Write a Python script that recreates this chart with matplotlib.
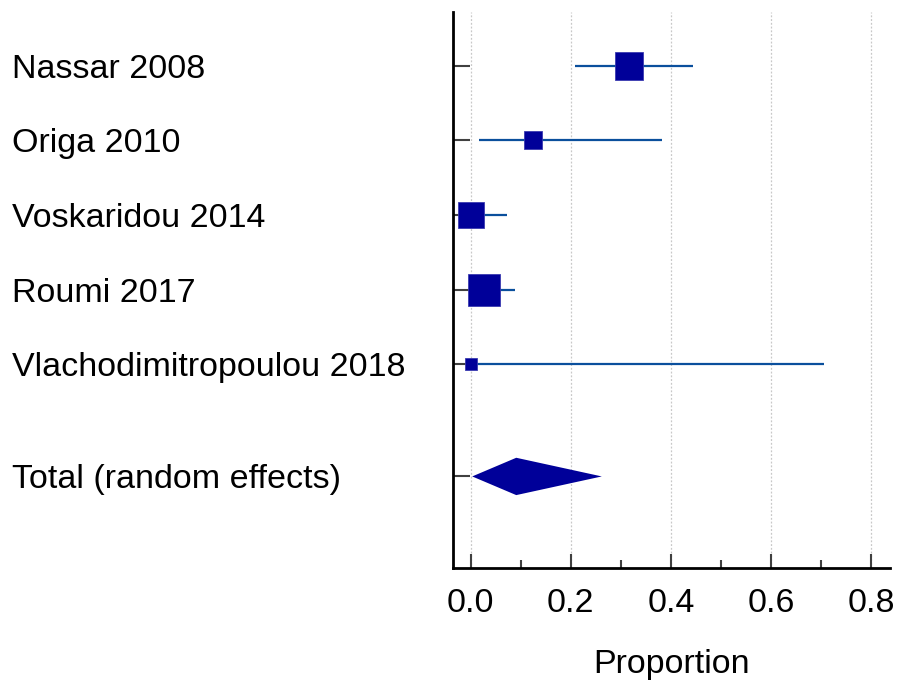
import matplotlib
matplotlib.use("Agg")
import matplotlib.pyplot as plt
from matplotlib import transforms
import numpy as np

plt.rcParams['font.family'] = ['Liberation Sans', 'DejaVu Sans']

# study data (proportion, 95% CI, weight %)
studies = ['Nassar 2008', 'Origa 2010', 'Voskaridou 2014', 'Roumi 2017',
           'Vlachodimitropoulou 2018']
prop = [0.317, 0.125, 0.0, 0.026, 0.0]
ci_low = [0.209, 0.017, 0.0, 0.0, 0.0]
ci_high = [0.444, 0.383, 0.072, 0.088, 0.707]
weights = [26.6, 11.6, 23.7, 33.4, 4.8]

total_label = 'Total (random effects)'
total_prop = 0.091
total_low = 0.003
total_high = 0.262

xticks = [0.0, 0.2, 0.4, 0.6, 0.8]

fs = 24.5

fig = plt.figure(figsize=(8.99, 6.85), dpi=100)
ax = fig.add_axes([0.5039, 0.1704, 0.99 - 0.5039, 0.9825 - 0.1704])

ypos = np.arange(len(studies))
ytot = len(studies) + 0.5

# grid
for t in xticks:
    ax.axvline(t, color='#c8c8c8', lw=0.9, ls=(0, (1.5, 1.5)), zorder=0)

# CI lines and squares
sq_color = '#000099'
for i in range(len(studies)):
    ax.plot([ci_low[i], ci_high[i]], [ypos[i], ypos[i]], color='#0a4f9c',
            lw=1.6, solid_capstyle='butt', zorder=2)
    side = 5.49 * np.sqrt(weights[i]) * 0.72
    ax.plot(prop[i], ypos[i], marker='s', markersize=side, color=sq_color,
            markeredgecolor='#3a3ab0', markeredgewidth=0.6, zorder=3)

# diamond
dh = 0.25
ax.fill([total_low, total_prop, total_high, total_prop],
        [ytot, ytot - dh, ytot, ytot + dh], color=sq_color, lw=0, zorder=3)

ax.set_xlim(-0.0354, 0.838)
ax.set_ylim(6.73, -0.72)

ax.spines['top'].set_visible(False)
ax.spines['right'].set_visible(False)
ax.spines['left'].set_linewidth(2.0)
ax.spines['bottom'].set_linewidth(2.0)

ax.set_xticks(xticks)
ax.set_xticklabels(['%.1f' % t for t in xticks])
ax.set_xticks([0.1, 0.3, 0.5, 0.7], minor=True)
ax.tick_params(axis='x', which='major', direction='in', length=10, width=1.5,
               color='#404040', labelsize=fs, pad=14)
ax.tick_params(axis='x', which='minor', direction='in', length=6, width=1.5,
               color='#404040')

ax.set_yticks(list(ypos) + [ytot])
ax.set_yticklabels([])
ax.tick_params(axis='y', direction='in', length=12.5, width=1.5, color='#404040')

# study labels, left aligned at the figure edge, cap height centred on the row
off = transforms.ScaledTranslation(0, -8.5 / 72, fig.dpi_scale_trans)
trans = transforms.blended_transform_factory(fig.transFigure, ax.transData) + off
for i, s in enumerate(studies + [total_label]):
    y = ypos[i] if i < len(studies) else ytot
    ax.text(12 / 899, y, s, transform=trans, ha='left', va='baseline',
            fontsize=fs, clip_on=False)

ax.set_xlabel('Proportion', fontsize=fs, labelpad=22)

fig.savefig('out.png', dpi=100)
